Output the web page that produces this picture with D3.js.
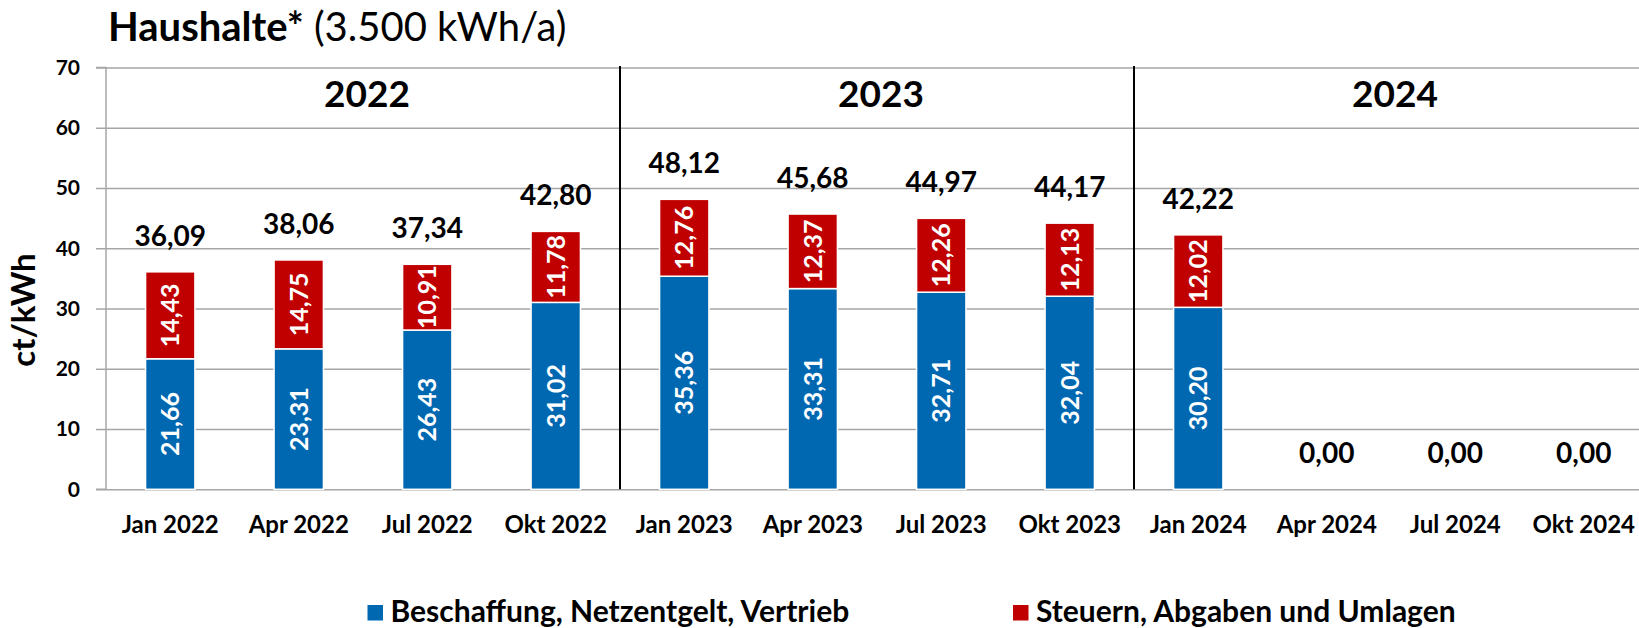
<!DOCTYPE html>
<html>
<head>
<meta charset="utf-8">
<script src="https://cdn.jsdelivr.net/npm/d3@7"></script>
<style>
  html, body { margin: 0; padding: 0; background: #fff; }
  svg { display: block; font-family: Lato, "Noto Sans", sans-serif; }
</style>
</head>
<body>
<svg id="chart" width="1639" height="628"></svg>
<script>
// ---- data ----
const categories = ["Jan 2022","Apr 2022","Jul 2022","Okt 2022","Jan 2023","Apr 2023","Jul 2023","Okt 2023","Jan 2024","Apr 2024","Jul 2024","Okt 2024"];
const beschaffung = [21.66, 23.31, 26.43, 31.02, 35.36, 33.31, 32.71, 32.04, 30.20, 0, 0, 0];
const steuern     = [14.43, 14.75, 10.91, 11.78, 12.76, 12.37, 12.26, 12.13, 12.02, 0, 0, 0];
const years = ["2022", "2023", "2024"];
const yTicks = [0, 10, 20, 30, 40, 50, 60, 70];
const seriesNames = ["Beschaffung, Netzentgelt, Vertrieb", "Steuern, Abgaben und Umlagen"];
const colors = ["#0067b1", "#c00000"];

(function () {
// ---- layout ----
const svg = d3.select("#chart");
const mLeft = 106, mBottom = 489.3, mTop = 67.5;
const step = 128.5;
const x = d3.scaleBand()
  .domain(categories)
  .range([mLeft, mLeft + step * categories.length])
  .paddingInner(0.616)
  .paddingOuter(0.308);
const y = d3.scaleLinear().domain([0, 70]).range([mBottom, mTop]);
const fmt = v => v.toFixed(2).replace(".", ",");

// gridlines
svg.append("g")
  .attr("transform", `translate(${mLeft},0)`)
  .call(d3.axisLeft(y).tickValues(yTicks).tickSize(-(1639 - mLeft)).tickFormat(""))
  .call(g => g.select(".domain").remove())
  .call(g => g.selectAll("line").attr("stroke", "#a6a6a6").attr("stroke-width", 1.5));

// y axis
svg.append("g")
  .attr("transform", `translate(${mLeft},0)`)
  .call(d3.axisLeft(y).tickValues(yTicks).tickSize(10).tickPadding(16).tickFormat(d3.format("d")))
  .call(g => g.select(".domain").attr("stroke", "#a6a6a6").attr("stroke-width", 1.5).attr("d", `M-10,${mBottom}H0V${mTop}H-10`))
  .call(g => g.selectAll("line").attr("stroke", "#a6a6a6").attr("stroke-width", 1.5))
  .call(g => g.selectAll("text").attr("fill", "#000").attr("font-size", 21).attr("font-weight", "bold").attr("font-family", "Lato"));

// year dividers
[4, 8].forEach(i => {
  const xx = x.range()[0] + i * x.step();
  svg.append("line")
    .attr("x1", xx).attr("x2", xx)
    .attr("y1", mTop - 1.5).attr("y2", mBottom)
    .attr("stroke", "#000").attr("stroke-width", 2);
});

// year labels
years.forEach((yr, gi) => {
  const cats = categories.slice(gi * 4, gi * 4 + 4);
  const cx = d3.mean(cats, c => x(c) + x.bandwidth() / 2) + 4;
  svg.append("text")
    .attr("x", cx).attr("y", 106.5)
    .attr("text-anchor", "middle")
    .attr("font-size", 37).attr("font-weight", "bold")
    .text(yr);
});

// stacked bars
const rows = categories.map((c, i) => ({cat: c, b: beschaffung[i], s: steuern[i]}));
const stack = d3.stack().keys(["b", "s"])(rows);
stack.forEach((layer, li) => {
  const g = svg.append("g");
  g.selectAll("rect").data(layer.filter(d => d[1] - d[0] > 0)).join("rect")
    .attr("x", d => x(d.data.cat))
    .attr("width", x.bandwidth())
    .attr("y", d => y(d[1]))
    .attr("height", d => y(d[0]) - y(d[1]))
    .attr("fill", colors[li])
    .attr("stroke", "#fff").attr("stroke-width", 1.5);
  g.selectAll("text").data(layer.filter(d => d[1] - d[0] > 0)).join("text")
    .attr("transform", d => `translate(${x(d.data.cat) + x.bandwidth() / 2},${y((d[0] + d[1]) / 2)}) rotate(-90)`)
    .attr("text-anchor", "middle")
    .attr("dy", "0.35em")
    .attr("fill", "#fff")
    .attr("font-size", 25).attr("font-weight", "bold")
    .text(d => fmt(d[1] - d[0]));
});

// totals
svg.append("g").selectAll("text").data(rows).join("text")
  .attr("x", d => x(d.cat) + x.bandwidth() / 2)
  .attr("y", d => y(d.b + d.s) - 26)
  .attr("text-anchor", "middle")
  .attr("font-size", 28).attr("font-weight", "bold")
  .text(d => fmt(d.b + d.s));

// x labels
svg.append("g").selectAll("text").data(categories).join("text")
  .attr("x", d => x(d) + x.bandwidth() / 2)
  .attr("y", 532.5)
  .attr("text-anchor", "middle")
  .attr("font-size", 24).attr("font-weight", "bold")
  .text(d => d);

// y title
svg.append("text")
  .attr("transform", "translate(35,310) rotate(-90)")
  .attr("text-anchor", "middle")
  .attr("font-size", 33).attr("font-weight", "bold")
  .text("ct/kWh");

// title
const title = svg.append("text").attr("x", 108).attr("y", 41).attr("font-size", 40);
title.append("tspan").attr("font-weight", "bold").text("Haushalte*");
title.append("tspan").text(" (3.500 kWh/a)");

// legend
const legendX = [367.5, 1013];
seriesNames.forEach((n, i) => {
  svg.append("rect")
    .attr("x", legendX[i]).attr("y", 605).attr("width", 15.5).attr("height", 15.5)
    .attr("fill", colors[i]);
  svg.append("text")
    .attr("x", legendX[i] + 23).attr("y", 621.5)
    .attr("font-size", 30).attr("font-weight", "bold")
    .text(n);
});
})();
</script>
</body>
</html>
